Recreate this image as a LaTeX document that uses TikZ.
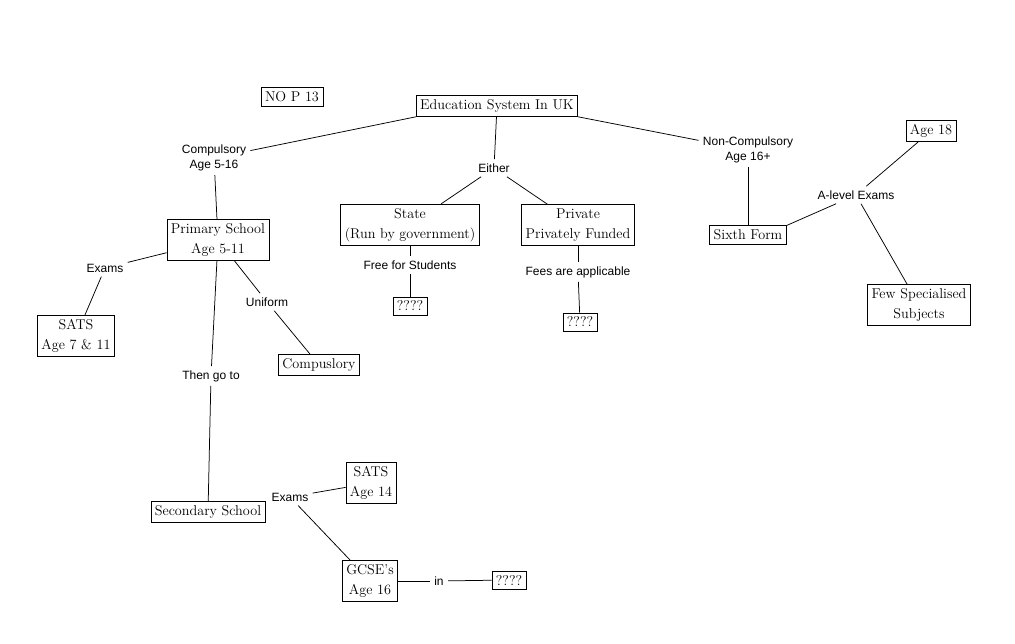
\documentclass[tikz,border=0pt]{standalone}
\usepackage{fontspec}
\newfontfamily\labelfont{Liberation Sans}
\usepackage{tikz}
\usetikzlibrary{positioning}

\begin{document}
\begin{tikzpicture}[
            x=1pt, y=-1pt, line width=0.75pt,
            box/.style={draw, align=center, inner xsep=4pt, inner ysep=4pt,
                font=\fontsize{14.2}{20}\selectfont},
            lbl/.style={align=center, inner sep=4pt,
                font=\labelfont\fontsize{12}{14.5}\selectfont}
        ]
        \useasboundingbox (0,0) rectangle (1015,644);
        % Top nodes
        \node[box] (nop) at (292,97) {NO P 13};
        \node[box] (edu) at (497,106) {Education System In UK};
        \node[lbl] (comp) at (214,158) {Compulsory\\Age 5-16};
        \node[lbl] (either) at (494,168) {Either};
        \node[lbl] (noncomp) at (748,150) {Non-Compulsory\\Age 16+};
        % Second row
        \node[box] (primary) at (218,240) {Primary School\\Age 5-11};
        \node[box] (state) at (410,225) {State\\(Run by government)};
        \node[box] (private) at (578,225) {Private\\Privately Funded};
        \node[box] (sixth) at (748,235) {Sixth Form};
        \node[box] (age18) at (931,131) {Age 18};
        \node[lbl] (alevel) at (856,195) {A-level Exams};
        \node[box] (few) at (919,305) {Few Specialised\\Subjects};
        % State and private branches
        \node[lbl] (free) at (410,265) {Free for Students};
        \node[box] (qstate) at (410,306) {????};
        \node[lbl] (fees) at (578,272) {Fees are applicable};
        \node[box] (qprivate) at (580,322) {????};
        % Primary school branches
        \node[lbl] (exams1) at (105,268) {Exams};
        \node[box] (sats1) at (76,336) {SATS\\Age 7 \& 11};
        \node[lbl] (uniform) at (267,302) {Uniform};
        \node[box] (compuls) at (319,365) {Compuslory};
        \node[lbl] (thengo) at (211,376) {Then go to};
        % Secondary school branches
        \node[box] (secondary) at (208,512) {Secondary School};
        \node[lbl] (exams2) at (290,497) {Exams};
        \node[box] (sats2) at (371,483) {SATS\\Age 14};
        \node[box] (gcse) at (370,581) {GCSE's\\Age 16};
        \node[lbl] (in) at (439,581) {in};
        \node[box] (qgcse) at (509,580) {????};

        % Connectors
        \draw (edu.south west) -- (comp);
        \draw (comp) -- (primary);
        \draw (edu) -- (either);
        \draw (either) -- (state);
        \draw (either) -- (private);
        \draw (edu.south east) -- (noncomp);
        \draw (noncomp) -- (sixth);
        \draw (sixth.north east) -- (alevel);
        \draw (alevel) -- (age18);
        \draw (alevel) -- (few);
        \draw (state) -- (free);
        \draw (free) -- (qstate);
        \draw (private) -- (fees);
        \draw (fees) -- (qprivate);
        \draw (primary) -- (exams1);
        \draw (exams1) -- (sats1);
        \draw (primary) -- (uniform);
        \draw (uniform) -- (compuls);
        \draw (primary) -- (thengo);
        \draw (thengo) -- (secondary);
        \draw (exams2) -- (sats2);
        \draw (exams2) -- (gcse);
        \draw (gcse) -- (in);
        \draw (in) -- (qgcse);
    \end{tikzpicture}
\end{document}
